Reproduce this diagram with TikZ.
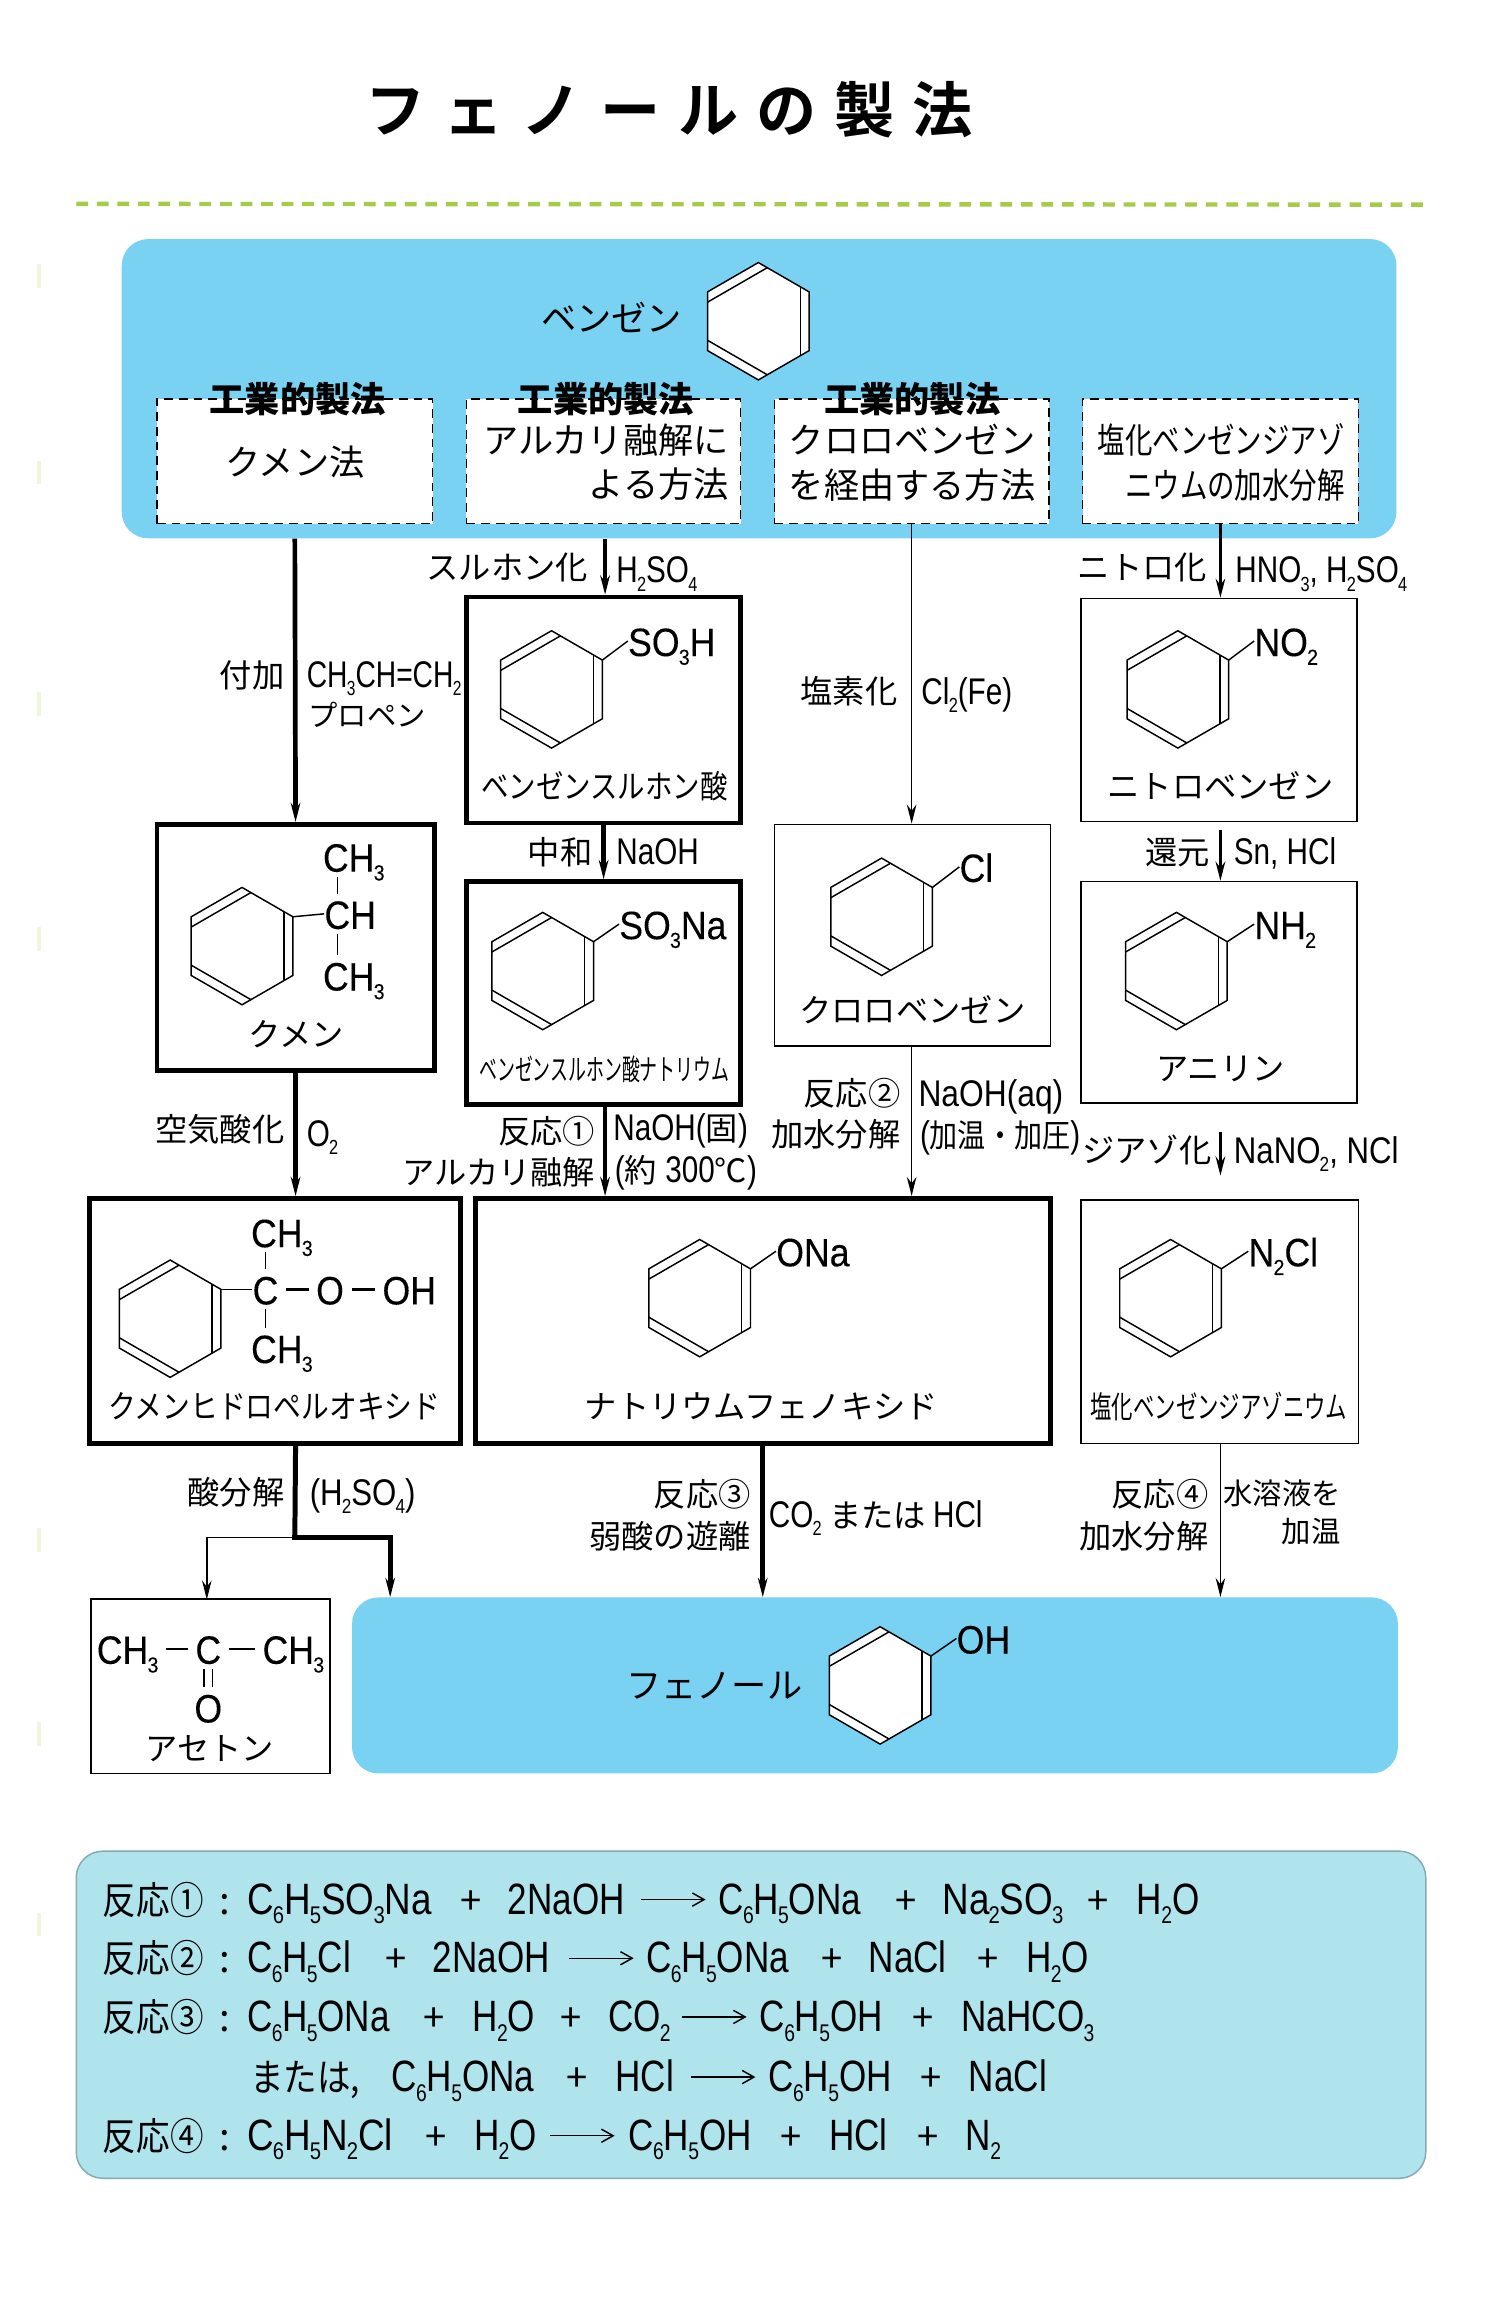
\documentclass[tikz,border=0pt]{standalone}
\usepackage{graphicx}
\usepackage{fontspec}
\usetikzlibrary{arrows.meta,calc}
\setmainfont{Noto Sans CJK JP}
\newfontfamily\lat[FakeStretch=0.8,Scale=1.15]{Liberation Sans}
\newfontfamily\chem[FakeStretch=0.9,FakeBold=0.15]{Liberation Sans}
\newfontfamily\ttl[LetterSpace=30,BoldFont=*]{Noto Sans CJK JP Bold}
\newcommand\su[1]{\raisebox{-.22em}{\kern-.02em\scalebox{.55}{#1}}}
\newcommand\cond[2]{\scalebox{#1}[1]{#2}}
\definecolor{skyb}{HTML}{7AD2F2}
\definecolor{eqb}{HTML}{B0E4EC}
\definecolor{grn}{HTML}{A4CC48}
\tikzset{
  fs/.style={font=\fontsize{#1}{#1}\selectfont,text height={0.88*#1 pt},text depth={0.12*#1 pt},inner sep=0pt},
  lr/.style={fs=#1,anchor=east},
  ll/.style={fs=#1,anchor=west},
  cc/.style={fs=#1,anchor=center},
  chl/.style={fs=27,anchor=west,font=\fontsize{27}{27}\selectfont\chem},
  chc/.style={fs=27,anchor=center,font=\fontsize{27}{27}\selectfont\chem},
  kou/.style={fs=24,anchor=center,font=\fontsize{24}{24}\selectfont\bfseries},
  bond/.style={line width=1pt,black},
  hbond/.style={line width=1.6pt,black,shorten <=5pt,shorten >=5pt},
  thinbx/.style={draw,line width=1pt,fill=white,inner sep=0pt},
  thickbx/.style={draw,line width=3.2pt,fill=white,inner sep=0pt},
  dashbx/.style={draw,line width=1pt,dash pattern=on 6pt off 4pt,fill=white,inner sep=0pt},
  bluebx/.style={fill=skyb,rounded corners=18pt,inner sep=0pt},
  eqbx/.style={fill=eqb,draw=black!25!eqb,line width=1pt,rounded corners=18pt,inner sep=0pt},
  arr/.style={-{Stealth[length=13pt,width=6.5pt]},line width=#1},
  arr/.default=1pt,
  eqarr/.style={-{Straight Barb[length=8pt,width=9pt]},line width=1pt},
}
\newcommand\rbox[7][]{\node[#3,minimum width={(#6-#4)*1pt},minimum height={(#7-#5)*1pt},#1] (#2) at ({(#4+#6)/2},{(#5+#7)/2}) {};}
\newcommand\benz[3]{%
  \begin{scope}[shift={(#2,#3)}]
    \draw[bond,fill=white] (90:40pt)--(150:40pt)--(210:40pt)--(270:40pt)--(330:40pt)--(30:40pt)--cycle;
    \draw[bond] ($(150:40pt)!7pt!(210:40pt)$) -- ($(90:40pt)!7pt!(30:40pt)$);
    \draw[bond] ($(30:40pt)!7pt!(90:40pt)$) -- ($(330:40pt)!7pt!(270:40pt)$);
    \draw[bond] ($(210:40pt)!7pt!(150:40pt)$) -- ($(270:40pt)!7pt!(330:40pt)$);
    \coordinate (#1) at (30:40pt);
  \end{scope}}
\newcommand\at[2]{\makebox[0pt][l]{\hspace*{1.004\dimexpr#1pt\relax}#2}}
\newcommand\atc[2]{\makebox[0pt][l]{\hspace*{1.004\dimexpr#1pt\relax}\makebox[0pt][c]{#2}}}
\newcommand\eqline[1]{\makebox[800pt][l]{#1}}
\newcommand\lb[1]{{\lat #1}}
\newcommand\lbw[1]{\cond{1.05}{\lb{#1}}}
\begin{document}
\begin{tikzpicture}[x=1pt,y=-1pt]
\useasboundingbox (0,0) rectangle (1028,1568);
\fill[white] (0,0) rectangle (1028,1568);

% scan marks at the left margin
\foreach \yy in {188,322,480,640,1050,1182,1312}
  \fill[grn!18] (25.5,\yy-8) rectangle (28,\yy+8);

% title and rule
\node[fs=41,anchor=west,font=\fontsize{41}{41}\selectfont\ttl] (title) at (249,75) {フェノールの製法};
\draw[grn,line width=3pt,dash pattern=on 8pt off 6pt] (52,139) -- (970,139.5);

% blue panels
\rbox{top}{bluebx}{83}{163}{952}{367}
\rbox{phe}{bluebx}{240}{1089}{953}{1209}
\rbox{eq}{eqbx}{52}{1262}{972}{1485}

% top panel
\node[cc=24] (ben) at (417,217) {ベンゼン};
\benz{benv}{517}{219}

\rbox{d1}{dashbx}{107}{272}{295}{357}
\rbox{d2}{dashbx}{318}{272}{505}{357}
\rbox{d3}{dashbx}{528}{272}{715}{357}
\rbox{d4}{dashbx}{738}{272}{926}{357}
\node[kou] (k1) at (203,272) {工業的製法};
\node[kou] (k2) at (413,272) {工業的製法};
\node[kou] (k3) at (622,272) {工業的製法};
\node[cc=24] (t1) at (201,315) {クメン法};
\node[lr=24] (t2a) at (497,300) {アルカリ融解に};
\node[lr=24] (t2b) at (497,330) {よる方法};
\node[lr=24] (t3a) at (706,300) {クロロベンゼン};
\node[lr=24] (t3b) at (706,331) {を経由する方法};
\node[lr=24] (t4a) at (917,300) {\cond{.78}{塩化ベンゼンジアゾ}};
\node[lr=24] (t4b) at (917,331) {\cond{.78}{ニウムの加水分解}};

% column 1
\rbox{cum}{thickbx}{107}{562}{296}{730}
\benz{cumv}{165}{645}
\node[chl] (cuma) at (220,584) {CH\su{3}};
\node[chl] (cumb) at (221,623) {CH};
\node[chl] (cumc) at (220,665) {CH\su{3}};
\draw[bond] (cumv) -- (cumb.west);
\draw[bond] ([xshift=9pt]cumb.north west) -- ([xshift=9pt]cumb.north west |- cuma.south);
\draw[bond] ([xshift=9pt]cumb.south west) -- ([xshift=9pt]cumb.south west |- cumc.north);
\node[cc=22] (cumt) at (202,705) {クメン};

\rbox{chp}{thickbx}{61}{817}{314}{984}
\benz{chpv}{116}{899}
\node[chl] (chpa) at (171,840) {CH\su{3}};
\node[chc] (chpc) at (181,879) {C};
\node[chc] (chpo) at (225,879) {O};
\node[chc] (chph) at (279,879) {OH};
\node[chl] (chpb) at (171,919) {CH\su{3}};
\draw[bond] (chpv) -- (chpc.west);
\draw[hbond] (chpc) -- (chpo);
\draw[hbond] (chpo) -- (chph);
\draw[bond] (chpc.north) -- (chpc.north |- chpa.south);
\draw[bond] (chpc.south) -- (chpc.south |- chpb.north);
\node[cc=22] (chpt) at (187,959) {\cond{.86}{クメンヒドロペルオキシド}};

\rbox{ace}{thinbx}{62}{1090}{225}{1209}
\node[chc] (acea) at (87,1124) {CH\su{3}};
\node[chc] (aceb) at (142,1124) {C};
\node[chc] (acec) at (200,1124) {CH\su{3}};
\node[chc] (aceo) at (142,1164) {O};
\draw[hbond] (acea) -- (aceb);
\draw[hbond] (aceb) -- (acec);
\draw[bond] ([xshift=-3pt]aceb.south) -- ([xshift=-3pt]aceb.south |- aceo.north);
\draw[bond] ([xshift=3pt]aceb.south) -- ([xshift=3pt]aceb.south |- aceo.north);
\node[cc=22] (acet) at (143,1192) {アセトン};

% column 2
\rbox{sul}{thickbx}{318}{407}{505}{561}
\benz{sulv}{376}{470}
\node[chl] (sull) at (428,437) {SO\su{3}H};
\draw[bond] (sulv) -- (sull.west);
\node[cc=22] (sult) at (412,536) {\cond{.85}{ベンゼンスルホン酸}};

\rbox{sna}{thickbx}{318}{601}{505}{753}
\benz{snav}{370}{662}
\node[chl] (snal) at (422,630) {SO\su{3}Na};
\draw[bond] (snav) -- (snal.west);
\node[cc=20] (snat) at (412,729) {\cond{.61}{ベンゼンスルホン酸ナトリウム}};

\rbox{npo}{thickbx}{324}{817}{716}{984}
\benz{npov}{477}{885}
\node[chl] (npol) at (529,853) {ONa};
\draw[bond] (npov) -- (npol.west);
\node[cc=22] (npot) at (519,959) {ナトリウムフェノキシド};

% column 3
\rbox{clb}{thinbx}{528}{562}{716}{713}
\benz{clbv}{601}{625}
\node[chl] (clbl) at (654,591) {Cl};
\draw[bond] (clbv) -- (clbl.west);
\node[cc=22] (clbt) at (622,689) {クロロベンゼン};

% column 4
\rbox{nit}{thinbx}{737}{408}{925}{560}
\benz{nitv}{803}{470}
\node[chl] (nitl) at (855,437) {NO\su{2}};
\draw[bond] (nitv) -- (nitl.west);
\node[cc=22] (nitt) at (832,536) {ニトロベンゼン};

\rbox{ani}{thinbx}{737}{601}{925}{752}
\benz{aniv}{802}{662}
\node[chl] (anil) at (855,630) {NH\su{2}};
\draw[bond] (aniv) -- (anil.west);
\node[cc=22] (anit) at (832,728) {アニリン};

\rbox{dia}{thinbx}{737}{818}{926}{984}
\benz{diav}{798}{885}
\node[chl] (dial) at (851,853) {N\su{2}Cl};
\draw[bond] (diav) -- (dial.west);
\node[cc=21] (diat) at (831,959) {\cond{.695}{塩化ベンゼンジアゾニウム}};

% phenol
\node[cc=24] (phet) at (487,1149) {フェノール};
\benz{phev}{600}{1149}
\node[chl] (phel) at (652,1117) {OH};
\draw[bond] (phev) -- (phel.west);

% connectors
\draw[arr=3.2pt] (d1.south |- top.south) -- (cum.north);
\draw[arr=3.2pt] ([xshift=1pt]d2.south |- top.south) -- ([xshift=1pt]sul.north);
\draw[arr=1pt] (d3.south) -- (clb.north -| d3.south);
\draw[arr=1.5pt] (d4.south) -- (d4.south |- nit.north);
\draw[arr=3.2pt] (sul.south) -- (sna.north);
\draw[arr=2.6pt,shorten <=5pt] (nit.south -| d4.south) -- (ani.north -| d4.south);
\draw[arr=3.2pt] (cum.south) -- (cum.south |- chp.north);
\draw[arr=3.2pt] ([xshift=1pt]sna.south) -- ([xshift=1pt]sna.south |- npo.north);
\draw[arr=1pt] (clb.south -| d3.south) -- (d3.south |- npo.north);
\draw[arr=2.6pt,shorten <=19pt,shorten >=16pt] (ani.south -| d4.south) -- (dia.north -| d4.south);
\coordinate (fork) at (201,1048);
\coordinate (forkl) at (141,1048);
\coordinate (forkr) at (266,1048);
\draw[line width=3.4pt] (cum.south |- chp.south) -- (fork);
\draw[arr=3.4pt] ([xshift=-1.7pt]fork) -- (forkr) -- (forkr |- phe.north);
\draw[arr=1pt] (fork) -- (forkl) -- ([yshift=-1pt]forkl |- ace.north);
\draw[arr=3.2pt] (npo.south) -- (npo.south |- phe.north);
\draw[arr=1pt] (dia.south -| d4.south) -- (d4.south |- phe.north);

% connector labels
\node[lr=22] (l1a) at (194,460) {付加};
\node[ll=22] (l1b) at (209,460) {\cond{.95}{\lb{CH\su{3}CH=CH\su{2}}}};
\node[ll=20] (l1c) at (210,488) {プロペン};
\node[lr=22] (l2a) at (401,387) {スルホン化};
\node[ll=22] (l2b) at (420,389) {\lb{H\su{2}SO\su{4}}};
\node[lr=22] (l3a) at (612,471) {塩素化};
\node[ll=22] (l3b) at (628,472) {\lb{Cl\su{2}(Fe)}};
\node[lr=22] (l4a) at (823,387) {ニトロ化};
\node[ll=22] (l4b) at (842,389) {\lb{HNO\su{3}, H\su{2}SO\su{4}}};
\node[lr=22] (l5a) at (404,581) {中和};
\node[ll=22] (l5b) at (420,581) {\lb{NaOH}};
\node[lr=22] (l6a) at (825,581) {還元};
\node[ll=22] (l6b) at (841,581) {\lb{Sn, HCl}};
\node[lr=22] (l7a) at (194,770) {空気酸化};
\node[ll=22] (l7b) at (209,773) {\lb{O\su{2}}};
\node[lr=22] (l8a) at (406,771) {反応①};
\node[lr=22] (l8b) at (406,799) {アルカリ融解};
\node[ll=22] (l8c) at (418,769) {\lb{NaOH(}固\lb{)}};
\node[ll=22] (l8d) at (419,798) {\lb{(}約\lb{ 300}℃\lb{)}};
\node[lr=22] (l9a) at (614,745) {反応②};
\node[lr=22] (l9b) at (614,773) {加水分解};
\node[ll=22] (l9c) at (626,746) {\cond{1.07}{\lb{NaOH(aq)}}};
\node[ll=22] (l9d) at (627,774) {\lb{(}\cond{.87}{加温・加圧}\lb{)}};
\node[lr=22] (l10a) at (826,784) {ジアゾ化};
\node[ll=22] (l10b) at (841,785) {\lbw{NaNO\su{2}, NCl}};
\node[lr=22] (l11a) at (194,1017) {酸分解};
\node[ll=22] (l11b) at (211,1018) {\lbw{(H\su{2}SO\su{4})}};
\node[lr=22] (l12a) at (512,1019) {反応③};
\node[lr=22] (l12b) at (512,1047) {弱酸の遊離};
\node[ll=22] (l12c) at (524,1033) {\lb{CO\su{2}} または \lb{HCl}};
\node[lr=22] (l13a) at (824,1019) {反応④};
\node[lr=22] (l13b) at (824,1047) {加水分解};
\node[ll=20] (l13c) at (834,1018) {水溶液を};
\node[lr=20] (l13d) at (914,1044) {加温};

% reaction list
\newcommand\han[1]{\cond{.88}{#1}}
\node[ll=26] (e1) at (70,1295) {\eqline{\at{0}{\han{反応①}}\at{79}{:}\at{98}{\lbw{C\su{6}H\su{5}SO\su{3}Na}}\atc{250}{+}\at{275}{\lb{2NaOH}}\at{418}{\lb{C\su{6}H\su{5}ONa}}\atc{545}{+}\at{570}{\lbw{Na\su{2}SO\su{3}}}\atc{676}{+}\at{702}{\lb{H\su{2}O}}}};
\node[ll=26] (e2) at (70,1335) {\eqline{\at{0}{\han{反応②}}\at{79}{:}\at{98}{\lb{C\su{6}H\su{5}Cl}}\atc{199}{+}\at{224}{\lb{2NaOH}}\at{369}{\lb{C\su{6}H\su{5}ONa}}\atc{495}{+}\at{520}{\lb{NaCl}}\atc{601}{+}\at{627}{\lb{H\su{2}O}}}};
\node[ll=26] (e3) at (70,1375) {\eqline{\at{0}{\han{反応③}}\at{79}{:}\at{98}{\lb{C\su{6}H\su{5}ONa}}\atc{225}{+}\at{251}{\lb{H\su{2}O}}\atc{318}{+}\at{343}{\lb{CO\su{2}}}\at{446}{\lb{C\su{6}H\su{5}OH}}\atc{557}{+}\at{583}{\lb{NaHCO\su{3}}}}};
\node[ll=26] (e4) at (70,1416) {\eqline{\at{100}{\han{または,}}\at{196}{\lb{C\su{6}H\su{5}ONa}}\atc{322}{+}\at{348}{\lb{HCl}}\at{452}{\lb{C\su{6}H\su{5}OH}}\atc{562}{+}\at{588}{\lb{NaCl}}}};
\node[ll=26] (e5) at (70,1456) {\eqline{\at{0}{\han{反応④}}\at{79}{:}\at{98}{\lbw{C\su{6}H\su{5}N\su{2}Cl}}\atc{226}{+}\at{252}{\lb{H\su{2}O}}\at{357}{\lb{C\su{6}H\su{5}OH}}\atc{467}{+}\at{493}{\lb{HCl}}\atc{560}{+}\at{586}{\lb{N\su{2}}}}};
\coordinate (a1s) at (437,1295); \coordinate (a1e) at (481,1295);
\coordinate (a2s) at (388,1335); \coordinate (a2e) at (432,1335);
\coordinate (a3s) at (465,1375); \coordinate (a3e) at (509,1375);
\coordinate (a4s) at (471,1416); \coordinate (a4e) at (515,1416);
\coordinate (a5s) at (375,1456); \coordinate (a5e) at (419,1456);
\foreach \i in {1,...,5} \draw[eqarr] (a\i s) -- (a\i e);
\end{tikzpicture}
\end{document}
